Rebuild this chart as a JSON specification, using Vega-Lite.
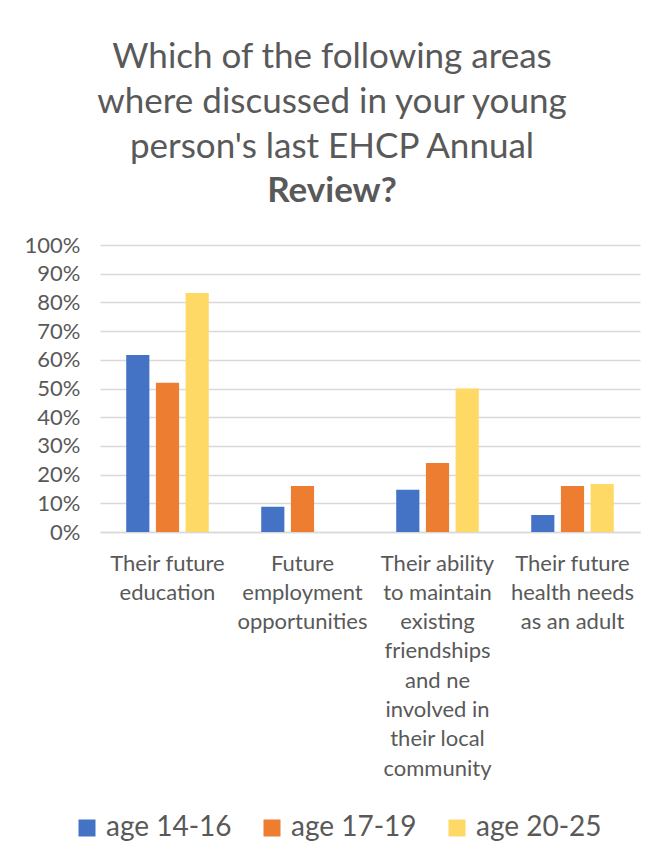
{
  "$schema": "https://vega.github.io/schema/vega-lite/v6.json",
  "width": 540,
  "height": 287,
  "autosize": {"type": "none"},
  "padding": {"left": 100, "top": 245, "right": 25, "bottom": 331},
  "background": "white",
  "title": {
    "text": ["Which of the following areas", "where discussed in your young", "person's last EHCP Annual"],
    "subtitle": "Review?",
    "anchor": "middle",
    "frame": "group",
    "dx": -38,
    "offset": 25,
    "font": "Lato",
    "fontSize": 35,
    "fontWeight": "normal",
    "lineHeight": 45,
    "color": "#595959",
    "subtitleFont": "Lato",
    "subtitleFontSize": 35,
    "subtitleFontWeight": "bold",
    "subtitleColor": "#595959",
    "subtitlePadding": 9
  },
  "data": {
    "values": [
      {"area": "Their future|education", "order": 1, "group": "age 14-16", "value": 0.617},
      {"area": "Their future|education", "order": 1, "group": "age 17-19", "value": 0.52},
      {"area": "Their future|education", "order": 1, "group": "age 20-25", "value": 0.833},
      {"area": "Future|employment|opportunities", "order": 2, "group": "age 14-16", "value": 0.088},
      {"area": "Future|employment|opportunities", "order": 2, "group": "age 17-19", "value": 0.16},
      {"area": "Future|employment|opportunities", "order": 2, "group": "age 20-25", "value": 0},
      {"area": "Their ability|to maintain|existing|friendships|and ne|involved in|their local|community", "order": 3, "group": "age 14-16", "value": 0.147},
      {"area": "Their ability|to maintain|existing|friendships|and ne|involved in|their local|community", "order": 3, "group": "age 17-19", "value": 0.24},
      {"area": "Their ability|to maintain|existing|friendships|and ne|involved in|their local|community", "order": 3, "group": "age 20-25", "value": 0.5},
      {"area": "Their future|health needs|as an adult", "order": 4, "group": "age 14-16", "value": 0.059},
      {"area": "Their future|health needs|as an adult", "order": 4, "group": "age 17-19", "value": 0.16},
      {"area": "Their future|health needs|as an adult", "order": 4, "group": "age 20-25", "value": 0.167}
    ]
  },
  "mark": {"type": "bar"},
  "encoding": {
    "x": {
      "field": "area",
      "type": "nominal",
      "sort": {"field": "order"},
      "scale": {"paddingInner": 0.34, "paddingOuter": 0.17},
      "axis": {
        "title": null,
        "labelAngle": 0,
        "labelExpr": "split(datum.label, '|')",
        "labelFont": "Lato",
        "labelFontSize": 22,
        "labelLineHeight": 29.3,
        "labelColor": "#595959",
        "labelPadding": 21,
        "labelBaseline": "top",
        "ticks": false,
        "domainColor": "#D9D9D9",
        "domainWidth": 1.5,
        "labelLimit": 200
      }
    },
    "xOffset": {
      "field": "group",
      "type": "nominal",
      "scale": {"paddingInner": 0.22, "paddingOuter": 0.11}
    },
    "y": {
      "field": "value",
      "type": "quantitative",
      "scale": {"domain": [0, 1]},
      "axis": {
        "title": null,
        "values": [0, 0.1, 0.2, 0.3, 0.4, 0.5, 0.6, 0.7, 0.8, 0.9, 1],
        "format": ".0%",
        "labelFont": "Lato",
        "labelFontSize": 22,
        "labelColor": "#595959",
        "labelPadding": 20,
        "ticks": false,
        "domain": false,
        "gridColor": "#D9D9D9",
        "gridWidth": 1.5
      }
    },
    "color": {
      "field": "group",
      "type": "nominal",
      "scale": {"domain": ["age 14-16", "age 17-19", "age 20-25"], "range": ["#4472C4", "#ED7D31", "#FFD966"]},
      "legend": {
        "title": null,
        "orient": "none",
        "legendX": -27,
        "legendY": 569,
        "direction": "horizontal",
        "symbolType": "square",
        "symbolSize": 289,
        "symbolStrokeWidth": 0,
        "labelFont": "Lato",
        "labelFontSize": 28,
        "labelColor": "#595959",
        "columnPadding": 26,
        "labelOffset": 5,
        "labelLimit": 300
      }
    }
  },
  "config": {"view": {"stroke": null}}
}
